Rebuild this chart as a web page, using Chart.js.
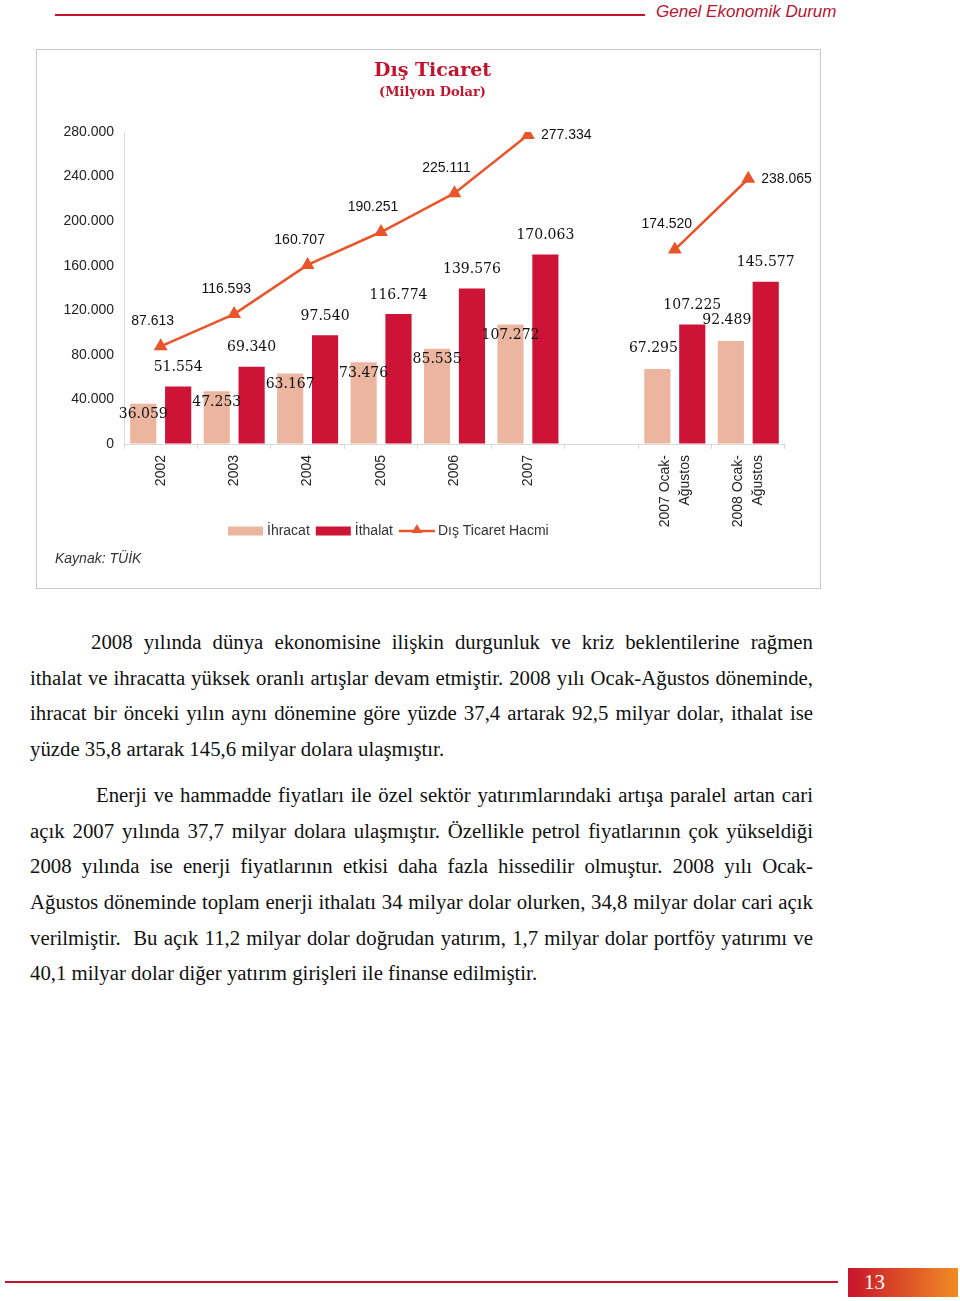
<!DOCTYPE html>
<html lang="tr">
<head>
    <meta charset="UTF-8">
    <title>Dış Ticaret</title>
    <style>
        body {
            margin: 0;
            padding: 0;
            background: #fff;
            width: 960px;
            height: 1301px;
            position: relative;
            overflow: hidden;
            font-family: 'Liberation Sans', Arial, sans-serif;
        }
        .top-line {
            position: absolute;
            left: 55px;
            top: 14px;
            width: 590px;
            height: 2px;
            background: #c0142c;
        }
        .top-title {
            position: absolute;
            left: 656px;
            top: 2px;
            font-size: 17px;
            font-style: italic;
            color: #b81430;
        }
        .chart-box {
            position: absolute;
            left: 36px;
            top: 49px;
            width: 783px;
            height: 538px;
            border: 1px solid #c8c8c8;
        }
        .chart-box canvas {
            position: absolute;
            left: 0;
            top: 0;
        }
        .source {
            position: absolute;
            left: 18px;
            top: 500px;
            font-size: 14px;
            font-style: italic;
            color: #333;
        }
        .text {
            position: absolute;
            left: 30px;
            top: 624px;
            width: 783px;
            font-family: 'Liberation Serif', 'Times New Roman', serif;
            font-size: 20.8px;
            color: #111;
        }
        .text p {
            margin: 0 0 10px 0;
        }
        .text .ln {
            display: block;
            line-height: 35.7px;
            white-space: nowrap;
            text-align: justify;
            text-align-last: justify;
        }
        .text .ln.last {
            text-align-last: left;
        }
        .bottom-line {
            position: absolute;
            left: 5px;
            top: 1281px;
            width: 833px;
            height: 2px;
            background: #c0142c;
        }
        .page-no {
            position: absolute;
            left: 848px;
            top: 1268px;
            width: 110px;
            height: 29px;
            background: linear-gradient(to right, #c8142c, #f08c24);
            color: #fff;
            font-family: 'Liberation Serif', serif;
            font-size: 21px;
            line-height: 29px;
            padding-left: 16px;
            box-sizing: border-box;
        }
    </style>
    <script src="https://cdn.jsdelivr.net/npm/chart.js"></script>
</head>
<body>
    <div class="top-line"></div>
    <div class="top-title">Genel Ekonomik Durum</div>

    <div class="chart-box">
        <canvas id="tradeChart" width="783" height="538"></canvas>
        <div class="source">Kaynak: TÜİK</div>
    </div>

    <div class="text">
        <p>
            <span class="ln" style="text-indent:61px">2008 yılında dünya ekonomisine ilişkin durgunluk ve kriz beklentilerine rağmen</span>
            <span class="ln">ithalat ve ihracatta yüksek oranlı artışlar devam etmiştir. 2008 yılı Ocak-Ağustos döneminde,</span>
            <span class="ln">ihracat bir önceki yılın aynı dönemine göre yüzde 37,4 artarak 92,5 milyar dolar, ithalat ise</span>
            <span class="ln last">yüzde 35,8 artarak 145,6 milyar dolara ulaşmıştır.</span>
        </p>
        <p>
            <span class="ln" style="text-indent:66px">Enerji ve hammadde fiyatları ile özel sektör yatırımlarındaki artışa paralel artan cari</span>
            <span class="ln">açık 2007 yılında 37,7 milyar dolara ulaşmıştır. Özellikle petrol fiyatlarının çok yükseldiği</span>
            <span class="ln">2008 yılında ise enerji fiyatlarının etkisi daha fazla hissedilir olmuştur. 2008 yılı Ocak-</span>
            <span class="ln">Ağustos döneminde toplam enerji ithalatı 34 milyar dolar olurken, 34,8 milyar dolar cari açık</span>
            <span class="ln">verilmiştir.&nbsp; Bu açık 11,2 milyar dolar doğrudan yatırım, 1,7 milyar dolar portföy yatırımı ve</span>
            <span class="ln last">40,1 milyar dolar diğer yatırım girişleri ile finanse edilmiştir.</span>
        </p>
    </div>

    <div class="bottom-line"></div>
    <div class="page-no">13</div>

    <script>
        // values in million USD
        const categories = ['2002', '2003', '2004', '2005', '2006', '2007', '',
            ['2007 Ocak-', 'Ağustos'], ['2008 Ocak-', 'Ağustos']];
        const ihracat = [36059, 47253, 63167, 73476, 85535, 107272, null, 67295, 92489];
        const ithalat = [51554, 69340, 97540, 116774, 139576, 170063, null, 107225, 145577];
        const hacim = [87613, 116593, 160707, 190251, 225111, 277334, null, 174520, 238065];
        const yTicks = [0, 40000, 80000, 120000, 160000, 200000, 240000, 280000];

        const colIhracat = '#ebb5a0';
        const colIthalat = '#cd1336';
        const colHacim = '#e9552b';
        const sans = "'Liberation Sans', Arial, sans-serif";
        const serif = "'DejaVu Serif', 'Liberation Serif', serif";

        function fmt(n) {
            return String(n).replace(/\B(?=(\d{3})+(?!\d))/g, '.');
        }

        function drawTriangle(ctx, x, y, r) {
            ctx.beginPath();
            ctx.moveTo(x, y - r);
            ctx.lineTo(x + r * 0.866, y + r * 0.5);
            ctx.lineTo(x - r * 0.866, y + r * 0.5);
            ctx.closePath();
            ctx.fill();
        }

        // title + unit line, a bit right of the box center like the original
        const chartTitle = {
            id: 'chartTitle',
            afterDraw(chart) {
                const ctx = chart.ctx;
                const cx = chart.width / 2 + 4;
                ctx.save();
                ctx.fillStyle = '#c0142c';
                ctx.textAlign = 'center';
                ctx.textBaseline = 'middle';
                ctx.font = 'bold 19px ' + serif;
                ctx.fillText('Dış Ticaret', cx, 21);
                ctx.font = 'bold 13px ' + serif;
                ctx.fillText('(Milyon Dolar)', cx, 43);
                ctx.restore();
            }
        };

        // center two-line rotated category labels on their tick
        const centerMultiLine = {
            id: 'centerMultiLine',
            beforeDraw(chart) {
                const items = chart.scales.x.getLabelItems();
                items.forEach(item => {
                    if (Array.isArray(item.label) && !item._shifted) {
                        const lh = item.font.lineHeight;
                        item.options.translation[0] -= (item.label.length - 1) * lh / 2;
                        item._shifted = true;
                    }
                });
            }
        };

        // value labels next to bars and line points
        const valueLabels = {
            id: 'valueLabels',
            afterDatasetsDraw(chart) {
                const ctx = chart.ctx;
                ctx.save();
                ctx.textBaseline = 'middle';
                ctx.fillStyle = '#111';

                const gapIndex = categories.indexOf('');
                chart.getDatasetMeta(0).data.forEach((bar, i) => {
                    const v = ihracat[i];
                    if (v == null) return;
                    ctx.font = '14px ' + serif;
                    ctx.textAlign = 'center';
                    if (i < gapIndex) {
                        ctx.fillText(fmt(v), bar.x, bar.y + 11);
                    } else {
                        ctx.fillText(fmt(v), bar.x - 4, bar.y - 21);
                    }
                });

                chart.getDatasetMeta(1).data.forEach((bar, i) => {
                    const v = ithalat[i];
                    if (v == null) return;
                    ctx.font = '14px ' + serif;
                    ctx.textAlign = 'center';
                    ctx.fillText(fmt(v), bar.x, bar.y - 19);
                });

                chart.getDatasetMeta(2).data.forEach((pt, i) => {
                    const v = hacim[i];
                    if (v == null) return;
                    ctx.font = '14px ' + sans;
                    const next = hacim[i + 1];
                    if (next == null) {
                        ctx.textAlign = 'left';
                        ctx.fillText(fmt(v), pt.x + 13, pt.y);
                    } else {
                        ctx.textAlign = 'center';
                        ctx.fillText(fmt(v), pt.x - 8, pt.y - 25);
                    }
                });
                ctx.restore();
            }
        };

        // legend drawn under the axis
        const bottomLegend = {
            id: 'bottomLegend',
            afterDraw(chart) {
                const ctx = chart.ctx;
                const y = 481;
                let x = 191;
                ctx.save();
                ctx.font = '14px ' + sans;
                ctx.textBaseline = 'middle';
                ctx.textAlign = 'left';
                const items = [
                    { text: 'İhracat', kind: 'box', color: colIhracat },
                    { text: 'İthalat', kind: 'box', color: colIthalat },
                    { text: 'Dış Ticaret Hacmi', kind: 'line', color: colHacim }
                ];
                items.forEach(item => {
                    ctx.fillStyle = item.color;
                    ctx.strokeStyle = item.color;
                    if (item.kind === 'box') {
                        ctx.fillRect(x, y - 4.5, 35, 9);
                    } else {
                        ctx.lineWidth = 2.5;
                        ctx.beginPath();
                        ctx.moveTo(x, y);
                        ctx.lineTo(x + 36, y);
                        ctx.stroke();
                        drawTriangle(ctx, x + 18, y - 1, 6);
                    }
                    x += 39;
                    ctx.fillStyle = '#333';
                    ctx.fillText(item.text, x, y);
                    x += ctx.measureText(item.text).width + 6;
                });
                ctx.restore();
            }
        };

        function renderChart() {
            const ctx = document.getElementById('tradeChart').getContext('2d');
            new Chart(ctx, {
                type: 'bar',
                data: {
                    labels: categories,
                    datasets: [
                        {
                            label: 'İhracat',
                            data: ihracat,
                            backgroundColor: colIhracat,
                            order: 2,
                            categoryPercentage: 0.95,
                            barPercentage: 0.75
                        },
                        {
                            label: 'İthalat',
                            data: ithalat,
                            backgroundColor: colIthalat,
                            order: 2,
                            categoryPercentage: 0.95,
                            barPercentage: 0.75
                        },
                        {
                            type: 'line',
                            label: 'Dış Ticaret Hacmi',
                            data: hacim,
                            borderColor: colHacim,
                            backgroundColor: colHacim,
                            borderWidth: 2.5,
                            pointStyle: 'triangle',
                            pointRadius: 8,
                            pointBorderWidth: 0,
                            spanGaps: false,
                            order: 0
                        }
                    ]
                },
                options: {
                    responsive: false,
                    animation: false,
                    layout: {
                        padding: { left: 0, right: 35, top: 82, bottom: 60 }
                    },
                    plugins: {
                        legend: { display: false },
                        tooltip: { enabled: false },
                        title: { display: false }
                    },
                    scales: {
                        x: {
                            grid: {
                                drawOnChartArea: false,
                                offset: true,
                                tickLength: 5,
                                color: '#d9d9d9'
                            },
                            border: { color: '#d9d9d9' },
                            ticks: {
                                color: '#222',
                                font: { family: sans, size: 14, lineHeight: 1.45 },
                                padding: 6,
                                minRotation: 90,
                                maxRotation: 90,
                                autoSkip: false
                            },
                            afterFit(scale) {
                                scale.height = 84;
                            }
                        },
                        y: {
                            min: 0,
                            max: 280000,
                            grid: {
                                drawOnChartArea: false,
                                drawTicks: false
                            },
                            border: { color: '#d9d9d9' },
                            afterBuildTicks(scale) {
                                scale.ticks = yTicks.map(v => ({ value: v }));
                            },
                            ticks: {
                                color: '#222',
                                font: { family: sans, size: 14 },
                                padding: 10,
                                callback: v => fmt(v)
                            },
                            afterFit(scale) {
                                scale.width = 87;
                            }
                        }
                    }
                },
                plugins: [chartTitle, centerMultiLine, valueLabels, bottomLegend]
            });
        }

        document.addEventListener('DOMContentLoaded', renderChart);
    </script>
</body>
</html>
